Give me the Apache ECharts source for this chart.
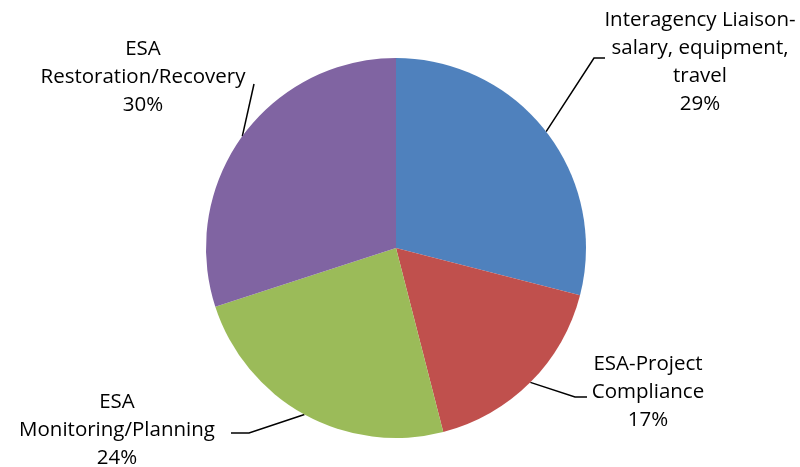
<!DOCTYPE html>
<html>
<head>
<meta charset="utf-8">
<script src="https://cdn.jsdelivr.net/npm/echarts@6/dist/echarts.min.js"></script>
<style>
  html, body { margin: 0; padding: 0; background: #fff; }
  #chart { width: 800px; height: 467px; }
</style>
</head>
<body>
<div id="chart"></div>
<script>
// Budget share by activity
const categories = [
  'Interagency Liaison-\nsalary, equipment,\ntravel',
  'ESA-Project\nCompliance',
  'ESA\nMonitoring/Planning',
  'ESA\nRestoration/Recovery'
];
const shares = [29, 17, 24, 30];
const colors = ['#4F81BD', '#C0504D', '#9BBB59', '#8064A2'];

// Label placement: text anchor (centre) and leader-line bend/end points
const labelAnchors = [[700, 62], [648, 392], [117, 430], [143, 77]];
const leaderBends = [
  [[594, 58], [605, 58]],
  [[575, 397], [587, 397]],
  [[249, 433], [231, 433]],
  [[254, 84], [254, 84]]
];

const chart = echarts.init(document.getElementById('chart'), null, { renderer: 'canvas' });

chart.setOption({
  animation: false,
  backgroundColor: '#ffffff',
  series: [{
    type: 'pie',
    center: [396, 248],
    radius: 190,
    startAngle: 90,
    clockwise: true,
    data: categories.map((name, i) => ({
      name: name,
      value: shares[i],
      itemStyle: { color: colors[i] }
    })),
    label: {
      show: true,
      formatter: '{b}\n{d}%',
      fontFamily: '"Open Sans", Lato, sans-serif',
      fontSize: 20.5,
      lineHeight: 28,
      color: '#000',
      align: 'center',
      overflow: 'none',
      edgeDistance: 0
    },
    labelLine: {
      show: true,
      lineStyle: { color: '#000', width: 1.5 }
    },
    labelLayout: function (params) {
      const i = params.dataIndex;
      const p0 = params.labelLinePoints ? params.labelLinePoints[0] : leaderBends[i][0];
      return {
        x: labelAnchors[i][0],
        y: labelAnchors[i][1],
        align: 'center',
        verticalAlign: 'middle',
        hideOverlap: false,
        labelLinePoints: [p0, leaderBends[i][0], leaderBends[i][1]]
      };
    }
  }]
});
</script>
</body>
</html>
